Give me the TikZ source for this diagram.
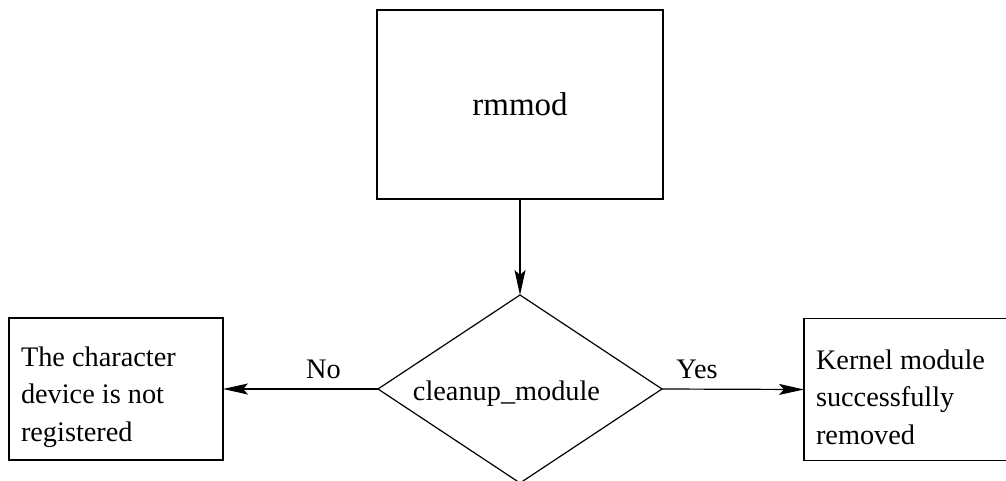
\documentclass[tikz,border=0pt]{standalone}
\usepackage{fontspec}
\setmainfont{Liberation Serif}
\usetikzlibrary{shapes.geometric,arrows.meta}
\begin{document}
\begin{tikzpicture}[x=1pt,y=-1pt,
  line width=1.2pt,
  every node/.style={inner sep=0pt, outer sep=0pt},
  bigbox/.style={draw, rectangle, minimum width=286pt, minimum height=189pt,
    font=\fontsize{33}{40}\selectfont},
  outbox/.style={draw, rectangle, minimum height=142pt},
  boxtext/.style={anchor=west, align=left,
    font=\fontsize{28.3}{37.5}\selectfont},
  decision/.style={draw, diamond, minimum width=284pt, minimum height=188pt},
  lbl/.style={anchor=base, font=\fontsize{28.3}{34}\selectfont},
  flow/.style={-{Stealth[length=25pt,width=11pt,inset=5pt]}}]
  \useasboundingbox (0,0) rectangle (1006,481);
  \clip (0,0) rectangle (1006,481);

  % command box and decision
  \node[bigbox] (rm) at (520,104.5) {rmmod};
  \node[decision] (dec) at (520,389) {};
  \node[lbl] (dectext) at (506.5,400) {cleanup\_module};

  % outcome boxes
  \node[outbox, minimum width=214pt] (fail) at (116,389) {};
  \node[boxtext] (failtext) at (21,397) {The character\\device is not\\registered};
  \node[outbox, minimum width=240pt] (ok) at (924,389.5) {};
  \node[boxtext] (oktext) at (816,397) {Kernel module\\successfully\\removed};

  % connectors
  \draw[flow] (rm.south) -- (dec.north);
  \draw[flow] (dec.west) -- (fail.east);
  \draw[flow] (dec.east) -- (ok.west);

  % branch labels
  \node[lbl] (no) at (323.5,378) {No};
  \node[lbl] (yes) at (697,378) {Yes};
\end{tikzpicture}
\end{document}
